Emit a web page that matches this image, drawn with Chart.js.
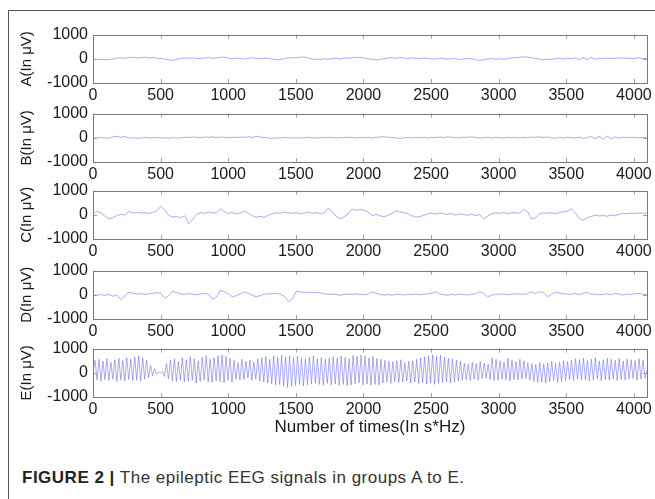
<!DOCTYPE html>
<html>
<head>
<meta charset="utf-8">
<script src="https://cdn.jsdelivr.net/npm/chart.js@4.4.0/dist/chart.umd.min.js"></script>
<style>
  html, body { margin: 0; padding: 0; background: #fff; }
  #page { position: relative; width: 655px; height: 499px; overflow: hidden; background: #fff; }
  #frame { position: absolute; left: 8px; top: 10px; width: 660px; height: 500px;
           border-top: 1.5px solid #555; border-left: 1.5px solid #555; }
  canvas { position: absolute; left: 0; }
  #caption { position: absolute; left: 22px; top: 468px; font-family: "Liberation Sans", Arial, sans-serif;
             font-size: 17px; letter-spacing: 0.5px; color: #333; white-space: nowrap; }
  #caption b { color: #222; }
</style>
</head>
<body>
<div id="page">
  <div id="frame"></div>
  <canvas id="chartA" width="655" height="85"></canvas>
  <canvas id="chartB" width="655" height="85"></canvas>
  <canvas id="chartC" width="655" height="85"></canvas>
  <canvas id="chartD" width="655" height="85"></canvas>
  <canvas id="chartE" width="655" height="108"></canvas>
  <div id="caption"><b>FIGURE 2 |</b> The epileptic EEG signals in groups A to E.</div>
</div>
<script>
// Số mẫu trên trục x (0 .. 4097)
const X_MAX = 4097;
const xTicks = [0, 500, 1000, 1500, 2000, 2500, 3000, 3500, 4000];
const yTicks = [-1000, 0, 1000];

const groupLabels = ["A(In \u03bcV)", "B(In \u03bcV)", "C(In \u03bcV)", "D(In \u03bcV)", "E(In \u03bcV)"];

// Giá trị (đều nhau theo trục x)
const seriesA = [
  -10,-30,-20,-40,-30,-10,30,40,20,50,60,30,40,70,30,50,20,
  10,-20,-40,-60,-20,10,30,20,40,10,20,30,50,20,40,60,70,
  20,0,30,10,-10,20,40,10,0,30,20,-10,-40,-30,10,30,50,
  40,60,70,30,-20,-10,-30,0,-20,10,20,-10,30,20,40,60,50,
  30,0,-20,-50,-30,10,30,40,20,50,30,10,40,20,0,30,10,
  0,-10,20,10,-20,10,0,-30,-10,20,0,-30,-80,-40,-10,10,-20,
  0,-20,10,30,50,60,80,70,40,20,-20,-40,-10,-30,10,20,-10,
  30,0,40,-30,50,-40,60,-20,20,0,30,10,20,40,20,30,10,
  20,40,10,20
];
const seriesB = [
  0,-10,10,-5,-20,40,60,20,50,-10,0,-20,-10,10,-10,0,10,
  -10,0,-20,10,-10,0,20,10,30,20,10,30,20,40,10,30,20,
  0,20,10,30,20,40,20,60,30,10,-10,-20,0,-10,10,0,-10,
  10,-10,0,20,0,-10,10,0,20,10,-10,10,0,20,10,-10,20,
  0,10,-10,20,30,50,20,10,0,-20,0,10,-10,20,0,10,-10,
  20,10,30,10,40,20,10,0,30,20,40,10,-10,0,20,-10,10,
  0,-10,20,0,10,-10,20,0,30,20,40,10,30,0,-20,10,-10,
  20,0,-10,30,-30,10,50,-40,60,-60,70,-50,40,-20,30,0,20,
  10,-10,20,0
];
const seriesC = [
  20,150,80,-60,-170,-110,-30,20,-10,150,60,100,70,90,50,100,160,
  350,200,-20,-100,-60,-120,-40,-360,-200,20,90,60,110,70,90,250,120,
  60,90,40,70,150,60,-40,-100,-60,-110,-20,40,90,60,110,80,60,
  90,40,70,120,60,90,50,80,280,130,-60,-170,-80,40,240,180,220,
  190,120,-40,20,-40,-90,-20,60,150,120,90,40,-40,-100,-70,-20,40,
  70,30,80,40,20,60,-20,40,10,-20,30,-30,10,-170,-60,40,80,
  60,100,50,80,90,60,220,140,-170,-120,30,80,60,90,40,100,120,
  150,250,80,-150,-230,-120,-60,-20,-50,-30,-60,-10,-40,20,60,40,70,
  50,80,60,70
];
const seriesD = [
  0,-20,10,-30,20,-60,-20,-200,-40,110,60,30,50,20,40,60,90,
  60,-140,-40,150,90,40,20,50,30,0,40,60,20,-200,-80,200,120,
  40,-90,-30,40,120,60,-20,-80,-30,30,40,50,60,20,-60,-270,-180,
  150,120,100,110,90,100,80,40,20,30,10,-20,20,30,10,40,20,
  0,30,120,60,20,-10,10,-20,20,10,-10,20,10,30,0,20,40,
  60,130,40,10,-20,20,0,30,10,-10,20,40,130,60,-80,-20,30,
  20,40,0,20,40,30,20,40,130,50,120,100,-80,20,110,70,40,
  30,20,50,10,60,100,20,30,0,20,40,10,60,30,-10,30,20,
  40,60,20,10
];
const seriesE = [
  80,520,-300,560,-350,480,-280,590,-320,430,-260,540,-360,600,-300,500,-340,620,-280,560,
  -330,650,-300,700,-350,610,-260,520,-200,300,-120,160,-60,40,-20,60,-150,380,-250,520,
  -320,580,-360,460,-300,620,-380,540,-340,660,-300,580,-420,500,-360,640,-300,700,-380,560,
  -400,620,-330,700,-360,740,-420,680,-300,600,-380,520,-260,420,-300,560,-280,480,-200,520,
  -300,440,-260,580,-340,620,-380,680,-420,560,-460,700,-500,640,-480,720,-540,660,-600,700,
  -560,620,-520,680,-480,600,-540,560,-500,640,-460,700,-420,580,-480,620,-520,560,-440,600,
  -500,660,-460,620,-520,700,-480,640,-540,580,-500,720,-460,680,-420,740,-500,700,-460,620,
  -520,680,-480,600,-500,560,-420,520,-380,480,-440,460,-360,500,-400,540,-380,420,-340,480,
  -420,500,-380,560,-440,620,-400,660,-460,700,-420,740,-480,680,-440,720,-400,640,-360,600,
  -420,560,-380,520,-340,480,-300,400,-280,360,-320,420,-260,380,-300,460,-240,400,-220,360,
  -280,620,-320,560,-300,500,-260,440,-300,600,-340,520,-280,460,-300,560,-260,500,-240,420,
  -300,380,-360,340,-400,420,-380,360,-420,400,-360,480,-320,380,-400,440,-360,500,-300,460,
  -280,520,-320,580,-260,540,-300,600,-280,500,-340,560,-300,620,-260,480,-320,540,-280,600,
  -300,560,-260,520,-320,600,-280,480,-300,560,-260,540,-240,500,-300,580,-260,520,-220,100
];

const allSeries = [seriesA, seriesB, seriesC, seriesD, seriesE];
const canvasIds = ["chartA", "chartB", "chartC", "chartD", "chartE"];
// đỉnh vùng vẽ của từng ô (px)
const plotTops = [32, 111, 188, 268, 346];
const PAD_TOP = 12;

const FONT = "'Liberation Sans', Arial, sans-serif";

function toPoints(values) {
  return values.map((v, i) => ({ x: i * X_MAX / (values.length - 1), y: v }));
}

// khung + vạch chia hướng vào trong kiểu MATLAB
const boxPlugin = {
  id: "boxPlugin",
  afterDatasetsDraw(chart) {
    const { ctx, chartArea: a, scales } = chart;
    ctx.save();
    ctx.strokeStyle = "#a0a0a0";
    ctx.lineWidth = 1;
    ctx.beginPath();
    xTicks.forEach(t => {
      const px = Math.round(scales.x.getPixelForValue(t)) + 0.5;
      ctx.moveTo(px, a.top); ctx.lineTo(px, a.top + 4);
      ctx.moveTo(px, a.bottom); ctx.lineTo(px, a.bottom - 4);
    });
    yTicks.forEach(t => {
      const py = Math.round(scales.y.getPixelForValue(t)) + 0.5;
      ctx.moveTo(a.left, py); ctx.lineTo(a.left + 4, py);
      ctx.moveTo(a.right, py); ctx.lineTo(a.right - 4, py);
    });
    ctx.stroke();
    ctx.strokeStyle = "#7a7a7a";
    ctx.strokeRect(Math.round(a.left) + 0.5, Math.round(a.top) + 0.5,
                   Math.round(a.right - a.left), Math.round(a.bottom - a.top));
    ctx.restore();
  }
};

function createChart(idx) {
  const isLast = idx === allSeries.length - 1;
  const canvas = document.getElementById(canvasIds[idx]);
  canvas.style.top = (plotTops[idx] - PAD_TOP) + "px";
  const xAxisH = isLast ? 45 : 22;

  return new Chart(canvas.getContext("2d"), {
    type: "line",
    data: {
      datasets: [{
        data: toPoints(allSeries[idx]),
        borderColor: "rgba(95,95,240,0.75)",
        borderWidth: 0.7,
        pointRadius: 0,
        fill: false,
        tension: 0
      }]
    },
    options: {
      responsive: false,
      animation: false,
      events: [],
      layout: { padding: { top: PAD_TOP, right: 8, left: 0, bottom: 0 } },
      plugins: { legend: { display: false }, tooltip: { enabled: false } },
      scales: {
        x: {
          type: "linear",
          min: 0,
          max: X_MAX,
          grid: { display: false, drawTicks: false },
          border: { display: false },
          afterBuildTicks: s => { s.ticks = xTicks.map(v => ({ value: v })); },
          afterFit: s => { s.height = xAxisH; },
          ticks: {
            autoSkip: false,
            maxRotation: 0,
            padding: 2.5,
            color: "#1a1a1a",
            font: { family: FONT, size: 16 },
            callback: v => String(v)
          },
          title: {
            display: isLast,
            text: "Number of times(In s*Hz)",
            color: "#1a1a1a",
            font: { family: FONT, size: 17 },
            padding: { top: 0, bottom: 4 }
          }
        },
        y: {
          min: -1000,
          max: 1000,
          grid: { display: false, drawTicks: false },
          border: { display: false },
          afterBuildTicks: s => { s.ticks = yTicks.map(v => ({ value: v })); },
          afterFit: s => { s.width = 93; },
          ticks: {
            padding: 5,
            color: "#1a1a1a",
            font: { family: FONT, size: 16 },
            callback: v => String(v)
          },
          title: {
            display: true,
            text: groupLabels[idx],
            color: "#1a1a1a",
            font: { family: FONT, size: 15 },
            padding: { top: 18, bottom: 0 }
          }
        }
      }
    },
    plugins: [boxPlugin]
  });
}

window.charts = allSeries.map((s, i) => createChart(i));
</script>
</body>
</html>
